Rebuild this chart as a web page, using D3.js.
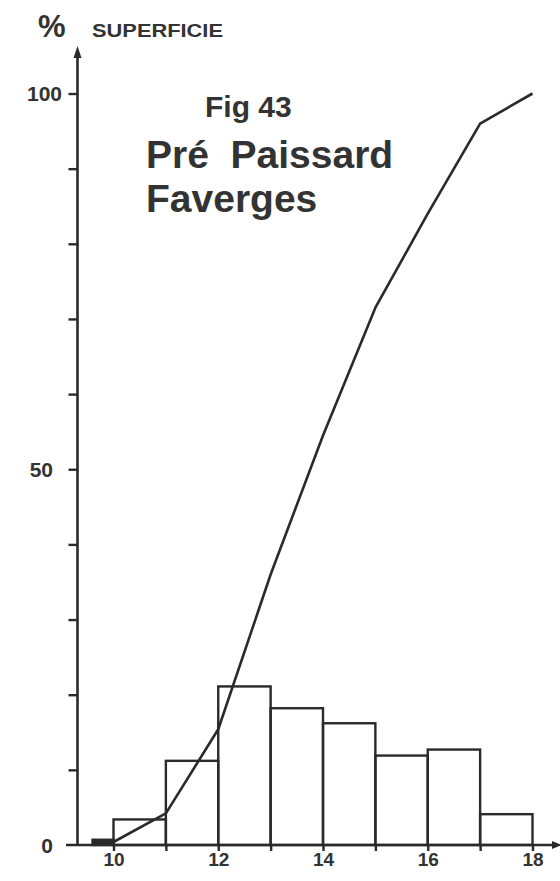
<!DOCTYPE html>
<html>
<head>
<meta charset="utf-8">
<script src="https://cdn.jsdelivr.net/npm/d3@7"></script>
<style>
  html, body { margin: 0; padding: 0; background: #ffffff; }
  svg { display: block; }
  text { font-family: "Liberation Sans", Arial, Helvetica, sans-serif; font-weight: bold; fill: #333333; }
</style>
</head>
<body>
<svg id="chart" width="560" height="881"></svg>
<script>
// ---- data ----
const binStart = [9.6, 10, 11, 12, 13, 14, 15, 16, 17];
const binEnd   = [10, 11, 12, 13, 14, 15, 16, 17, 18];
const binPct   = [0.7, 3.4, 11.2, 21.1, 18.2, 16.2, 11.9, 12.7, 4.1];
const cumX     = [10, 11, 12, 13, 14, 15, 16, 17, 18];
const cumPct   = [0.4, 4.2, 15.4, 36, 54.5, 71.5, 84, 96, 100];
const xTicks   = [10, 11, 12, 13, 14, 15, 16, 17, 18];
const xLabels  = [10, 12, 14, 16, 18];
const yTicks   = [10, 20, 30, 40, 50, 60, 70, 80, 90, 100];
const yLabels  = [0, 50, 100];
const titleLines = ["Fig 43", "Pré\u00A0\u00A0Paissard", "Faverges"];
const yAxisTitle = "SUPERFICIE";

const ink = "#2a2a2a";
const svg = d3.select("#chart");

const x = d3.scaleLinear().domain([10, 18]).range([113.5, 532.5]);
const y = d3.scaleLinear().domain([0, 100]).range([845, 93.5]);

// bars
const bars = binPct.map((v, i) => ({ s: binStart[i], e: binEnd[i], v }));
svg.append("g").selectAll("rect").data(bars).join("rect")
  .attr("x", d => x(d.s))
  .attr("y", d => y(d.v))
  .attr("width", d => x(d.e) - x(d.s))
  .attr("height", d => y(0) - y(d.v))
  .attr("fill", (d, i) => i === 0 ? ink : "none")
  .attr("stroke", ink)
  .attr("stroke-width", 2.4);

// cumulative curve
const line = d3.line().x((d, i) => x(cumX[i])).y(d => y(d)).curve(d3.curveLinear);
svg.append("path").datum(cumPct)
  .attr("d", line)
  .attr("fill", "none")
  .attr("stroke", ink)
  .attr("stroke-width", 2.6)
  .attr("stroke-linejoin", "round");

// x axis
const xAxis = d3.axisBottom(x).tickValues(xTicks).tickSize(6)
  .tickFormat(d => xLabels.includes(d) ? d : "");
const gx = svg.append("g").attr("transform", `translate(0,${y(0)})`).call(xAxis);
gx.select(".domain").remove();
gx.selectAll(".tick line").attr("stroke", ink).attr("stroke-width", 2.4);
gx.selectAll(".tick text").attr("y", 8).attr("dy", "0.71em")
  .style("font-size", "19px").style("font-family", "Liberation Sans, Arial, sans-serif")
  .style("font-weight", "bold").attr("fill", "#333");

svg.append("line").attr("x1", 66).attr("x2", 556).attr("y1", y(0)).attr("y2", y(0))
  .attr("stroke", ink).attr("stroke-width", 2.6);
svg.append("path").attr("d", `M562,${y(0)} L552,${y(0) - 4} L552,${y(0) + 4} Z`).attr("fill", ink);

// y axis
const yAxisX = 77.5;
svg.append("line").attr("x1", yAxisX).attr("x2", yAxisX).attr("y1", y(0) + 1).attr("y2", 56)
  .attr("stroke", ink).attr("stroke-width", 2.6);
svg.append("path").attr("d", `M${yAxisX},46 L${yAxisX - 4},58 L${yAxisX + 4},58 Z`).attr("fill", ink);

const yAxis = d3.axisLeft(y).tickValues(yTicks).tickSize(9).tickFormat("");
const gy = svg.append("g").attr("transform", `translate(${yAxisX},0)`).call(yAxis);
gy.select(".domain").remove();
gy.selectAll(".tick line").attr("stroke", ink).attr("stroke-width", 2.4);

const yLabelPos = { 0: 53, 50: 53, 100: 62 };
svg.append("g").selectAll("text").data(yLabels).join("text")
  .attr("x", d => yLabelPos[d])
  .attr("y", d => y(d))
  .attr("dy", "0.36em")
  .attr("text-anchor", "end")
  .style("font-size", "21px")
  .text(d => d);

// axis title
svg.append("text").attr("x", 38).attr("y", 37).style("font-size", "31px").text("%");
svg.append("text").attr("x", 92).attr("y", 37).style("font-size", "18px")
  .attr("textLength", 131).attr("lengthAdjust", "spacingAndGlyphs").text(yAxisTitle);

// titles
svg.append("text").attr("x", 205).attr("y", 117).style("font-size", "30px").text(titleLines[0]);
svg.append("text").attr("x", 146).attr("y", 168).style("font-size", "39px").text(titleLines[1]);
svg.append("text").attr("x", 146).attr("y", 212).style("font-size", "39px").text(titleLines[2]);
</script>
</body>
</html>
